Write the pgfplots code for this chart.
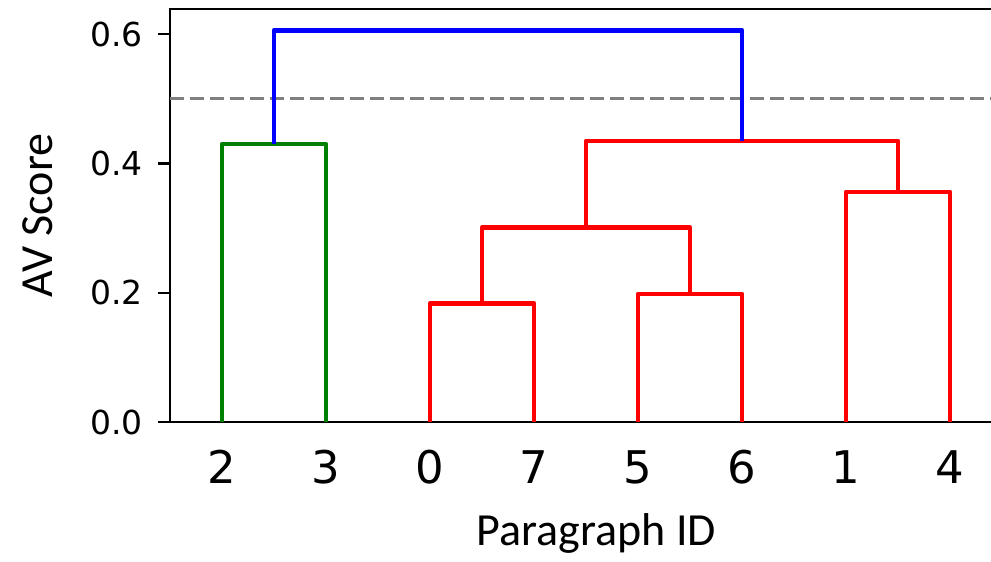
\documentclass[border=0pt]{standalone}
\usepackage{fontspec}
\setmainfont{Carlito}
\newfontfamily\dejavu{DejaVu Sans}
\usepackage{pgfplots}
\pgfplotsset{compat=1.18}
\definecolor{dgreen}{RGB}{0,128,0}
\newcommand{\dv}[1]{\mbox{\dejavu #1}}
\begin{document}
\begin{tikzpicture}
\begin{axis}[
  at={(0,0)}, anchor=south west,
  scale only axis, width=416pt, height=206.5pt,
  xmin=0, xmax=80, ymin=0, ymax=0.639,
  axis line style={line width=1.2pt},
  xtick={5,15,25,35,45,55,65,75},
  xticklabels={\dv{2},\dv{3},\dv{0},\dv{7},\dv{5},\dv{6},\dv{1},\dv{4}},
  ytick={0,0.2,0.4,0.6},
  yticklabels={\dv{0.0},\dv{0.2},\dv{0.4},\dv{0.6}},
  tick align=outside,
  xtick pos=bottom, ytick pos=left,
  major tick length=6pt,
  y tick style={line width=1.2pt, black},
  x tick style={draw=none},
  xticklabel style={font=\fontsize{22.5}{24}\selectfont, inner sep=0pt, anchor=north, yshift=-8pt},
  yticklabel style={font=\fontsize{16.5}{18}\selectfont, inner sep=0pt, anchor=east, xshift=-7.5pt},
  xlabel={Paragraph ID}, ylabel={AV Score},
  xlabel style={font=\fontsize{23}{26}\selectfont, at={(axis description cs:0.5126,-0.3002)}, anchor=base},
  ylabel style={font=\fontsize{23}{26}\selectfont, at={(axis description cs:-0.1418,0.5)}, anchor=base, rotate=0},
  clip=false,
]
\addplot[gray, line width=1.6pt, dash pattern=on 7pt off 3pt] coordinates {(0,0.5) (80,0.5)};
\addplot[dgreen, line width=2.3pt, line join=round] coordinates {(5,0) (5,0.430) (15,0.430) (15,0)};
\addplot[red, line width=2.3pt, line join=round] coordinates {(25,0) (25,0.1836) (35,0.1836) (35,0)};
\addplot[red, line width=2.3pt, line join=round] coordinates {(45,0) (45,0.198) (55,0.198) (55,0)};
\addplot[red, line width=2.3pt, line join=round] coordinates {(30,0.1836) (30,0.3005) (50,0.3005) (50,0.198)};
\addplot[red, line width=2.3pt, line join=round] coordinates {(65,0) (65,0.356) (75,0.356) (75,0)};
\addplot[red, line width=2.3pt, line join=round] coordinates {(40,0.3005) (40,0.435) (70,0.435) (70,0.356)};
\addplot[blue, line width=2.3pt, line join=round] coordinates {(10,0.430) (10,0.606) (55,0.606) (55,0.435)};
\end{axis}
\pgfresetboundingbox
\path[use as bounding box] (-85pt,-70pt) rectangle (410.5pt,211pt);
\end{tikzpicture}
\end{document}
